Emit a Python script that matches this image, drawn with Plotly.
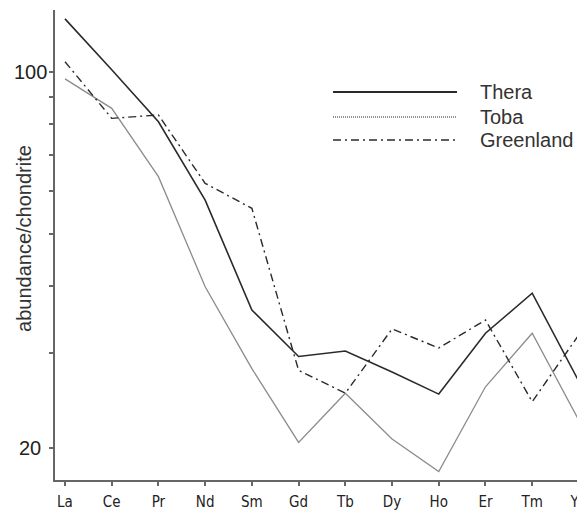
import math
import plotly.graph_objects as go

elements = ["La", "Ce", "Pr", "Nd", "Sm", "Gd", "Tb", "Dy", "Ho", "Er", "Tm", "Yb"]
thera = [125.5, 101, 80.8, 57.8, 36.1, 29.6, 30.3, 27.7, 25.2, 32.7, 38.8, 26.6]
toba = [97.1, 85.6, 63.9, 39.9, 28.1, 20.5, 25.3, 20.8, 18.1, 26.0, 32.7, 22.5]
greenland = [104.5, 82.0, 83.2, 62.1, 55.8, 27.9, 25.3, 33.3, 30.7, 34.6, 24.4, 32.5]
series_names = ["Thera", "Toba", "Greenland"]
ytick_vals = [20, 30, 40, 50, 60, 70, 80, 90, 100]
ytick_labels = {20: "20", 100: "100"}

x = list(range(len(elements)))
fig = go.Figure()
fig.add_trace(go.Scatter(x=x, y=toba, mode="lines", name="Toba",
                         line=dict(color="#8c8c8c", width=1.3)))
fig.add_trace(go.Scatter(x=x, y=greenland, mode="lines", name="Greenland",
                         line=dict(color="#2a2a2a", width=1.4, dash="8px,4px,2px,4px")))
fig.add_trace(go.Scatter(x=x, y=thera, mode="lines", name="Thera",
                         line=dict(color="#2a2a2a", width=1.6)))

# legend drawn manually (long line samples)
leg_y = [0.8255, 0.7723, 0.7234]
leg_styles = [dict(color="#2a2a2a", width=1.8),
              dict(color="#6a6a6a", width=1.5, dash="1px,1px"),
              dict(color="#2a2a2a", width=1.5, dash="8px,4px,2px,4px")]
for name, yy, st in zip(series_names, leg_y, leg_styles):
    fig.add_shape(type="line", xref="paper", yref="paper", x0=0.5245, x1=0.7585,
                  y0=yy, y1=yy, line=st)
    fig.add_annotation(xref="paper", yref="paper", x=0.798, y=yy, text=name,
                       showarrow=False, xanchor="left", yanchor="middle",
                       font=dict(family="Liberation Sans, Arial", size=20, color="#333333"))

# y tick labels (centred, as in the original)
for v, lab in ytick_labels.items():
    fig.add_annotation(xref="paper", yref="y", x=-0.047, y=math.log10(v), text=lab,
                       showarrow=False, xanchor="center", yanchor="middle",
                       font=dict(family="Liberation Sans, Arial", size=20, color="#222222"))

# y axis title
fig.add_annotation(xref="paper", yref="paper", x=-0.0585, y=0.515, text="abundance/chondrite",
                   showarrow=False, textangle=-90, xanchor="center", yanchor="middle",
                   font=dict(family="Liberation Sans, Arial", size=20, color="#333333"))

# page body has an 8px default margin, so the figure is sized to fit the window
fig.update_layout(
    width=577, height=503,
    margin=dict(l=47, r=0, t=2, b=31),
    paper_bgcolor="white", plot_bgcolor="white",
    showlegend=False,
    xaxis=dict(range=[-0.214, 11.13], tickmode="array", tickvals=x, ticktext=elements,
               automargin=False, ticklabeloverflow="allow", ticklabelstandoff=3,
               showgrid=False, zeroline=False, showline=True, linecolor="#666666", linewidth=2,
               ticks="outside", ticklen=4, tickwidth=1.5, tickcolor="#666666",
               tickfont=dict(family="DejaVu Sans Condensed, DejaVu Sans", size=15, color="#222222")),
    yaxis=dict(type="log", range=[1.2418, 2.1152], tickmode="array", tickvals=ytick_vals,
               showticklabels=False, automargin=False,
               showgrid=False, zeroline=False, showline=True,
               linecolor="#666666", linewidth=2, ticks="outside", ticklen=4, tickwidth=1.5,
               tickcolor="#666666"),
)
fig.write_html("out.html")
